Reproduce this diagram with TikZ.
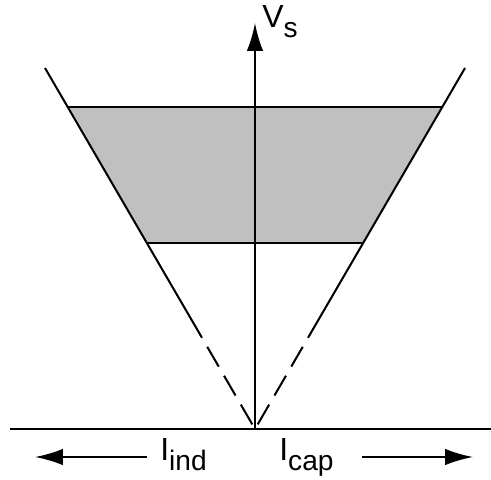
\documentclass[tikz,border=0pt]{standalone}
\usepackage{fontspec}
\setmainfont{Liberation Sans}
\usetikzlibrary{arrows.meta, positioning}
\definecolor{zonegray}{RGB}{192,192,192}
\newcommand{\lowsub}[1]{\raisebox{-0.2cm}{\fontsize{16}{19}\selectfont #1}}
\tikzstyle{ln}=[line width=1.15pt, color=black]
\tikzstyle{garr}=[-{Latex[length=0.56cm, width=0.33cm]}, line width=1.15pt]
\tikzstyle{lbl}=[font=\fontsize{18.2}{21}\selectfont, inner sep=0pt, anchor=base west]
\tikzstyle{dsh}=[ln, dash pattern=on 13pt off 6pt]

\begin{document}
\begin{tikzpicture}
    \useasboundingbox (-5.1,-1.0) rectangle (4.72,8.58);
    \coordinate (o) at (0,0);
    \coordinate (lt) at (-4.2,7.22);
    \coordinate (rt) at (4.2,7.22);
    \coordinate (ld) at (-1.29,2.22);
    \coordinate (rd) at (1.29,2.22);
    \coordinate (vs) at (0,8.12);
    \coordinate (ax1) at (-4.9,0);
    \coordinate (ax2) at (4.72,0);
    % shaded zone
    \fill[zonegray] (-3.746,6.44) coordinate (g1) -- (3.746,6.44) coordinate (g2)
      -- (2.164,3.72) coordinate (g3) -- (-2.164,3.72) coordinate (g4) -- cycle;
    \draw[ln] (g1)--(g2);
    \draw[ln] (g4)--(g3);
    % limit lines
    \draw[ln] (lt)--(ld);
    \draw[ln] (rt)--(rd);
    \draw[dsh] (ld)--(o);
    \draw[dsh] (rd)--(o);
    % axes
    \draw[ln] (ax1)--(ax2);
    \draw[garr] (o)--(vs);
    \node[lbl] (vlab) at (0.14,8.02) {V\lowsub{s}};
    \node[lbl] (ind) at (-1.90,-0.62) {I\lowsub{ind}};
    \node[lbl] (cap) at (0.48,-0.62) {I\lowsub{cap}};
    \coordinate (a1) at (-2.16,-0.56);
    \coordinate (a1e) at (-4.4,-0.56);
    \coordinate (a2) at (2.14,-0.56);
    \coordinate (a2e) at (4.36,-0.56);
    \draw[garr] (a1)--(a1e);
    \draw[garr] (a2)--(a2e);
  \end{tikzpicture}
\end{document}
